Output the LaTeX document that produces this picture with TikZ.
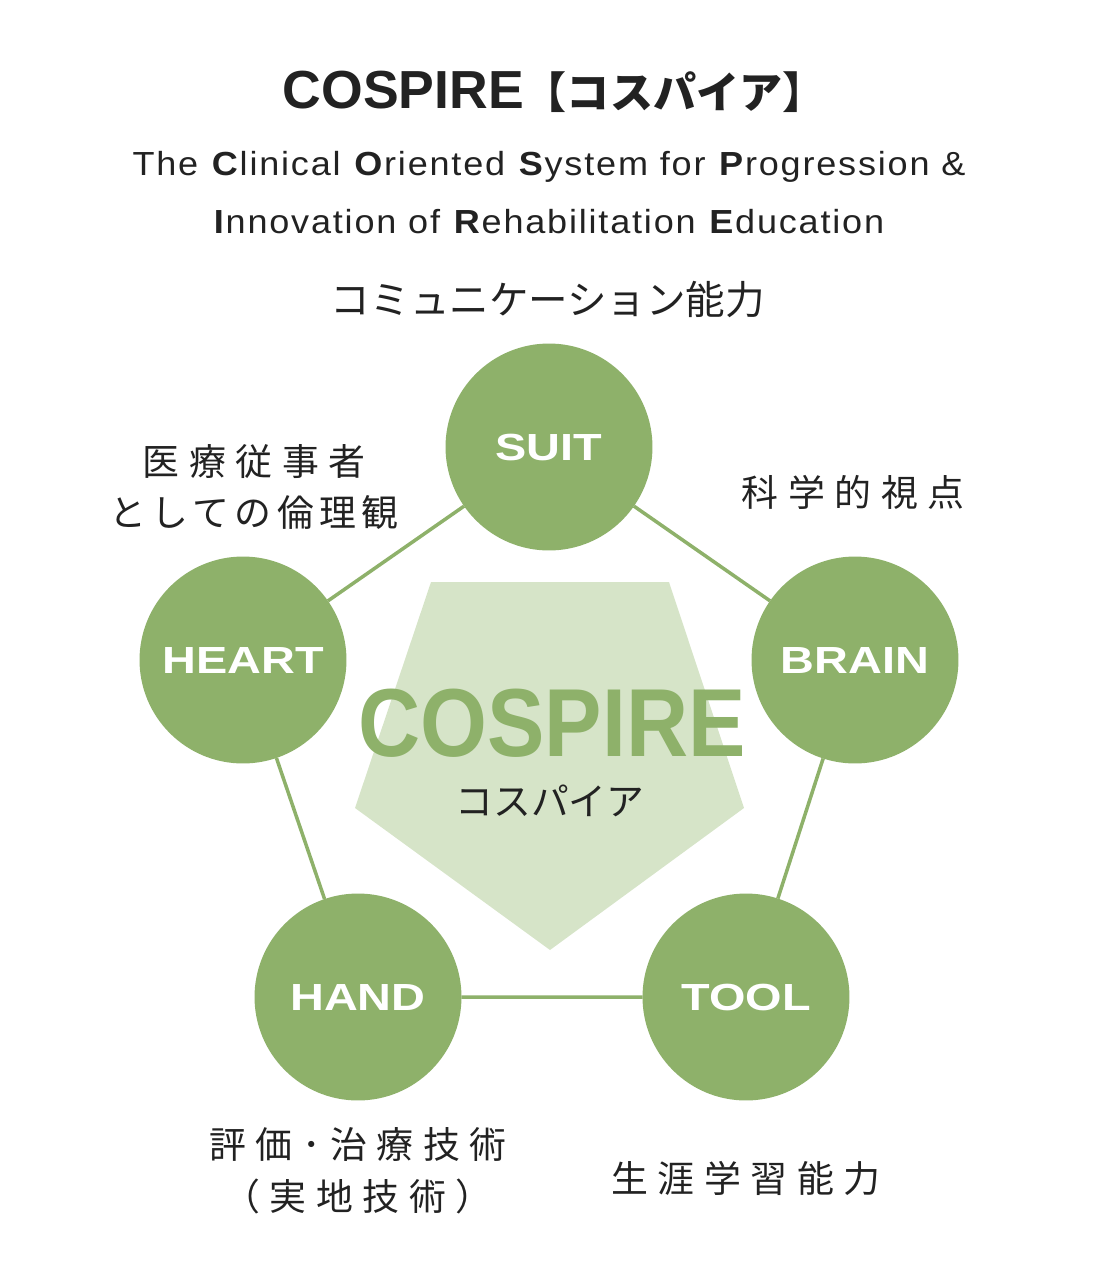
\documentclass[tikz,border=0pt]{standalone}
\usepackage{graphicx}
\usepackage{fontspec}
\setmainfont{Liberation Sans}
\newfontfamily\subfont[LetterSpace=5]{Liberation Sans}
\newfontfamily\jp{Noto Sans CJK JP}
\newfontfamily\jpw[LetterSpace=14]{Noto Sans CJK JP}
\newfontfamily\jpx[LetterSpace=26]{Noto Sans CJK JP}
\usepackage{tikz}
\definecolor{green1}{HTML}{8EB16A}
\definecolor{green2}{HTML}{D6E4C8}
\definecolor{ink1}{HTML}{222222}
\newcommand\widebox[1]{\scalebox{1.24}[1]{#1}}

\begin{document}
\begin{tikzpicture}[x=0.02cm,y=-0.02cm,
  ball/.style={circle,fill=green1,minimum size=4.14cm,inner sep=0pt,outer sep=0pt,
    text=white,font=\bfseries\fontsize{21.5}{22}\selectfont},
  link/.style={draw=green1,line width=2pt},
  jplabel/.style={text=ink1,align=center,font=\jpw\fontsize{21}{29.5}\selectfont}]
\useasboundingbox (0,0) rectangle (1100,1272);
% headings
\node[text=ink1,font=\bfseries\fontsize{30.5}{31}\selectfont] (title) at (554,92)
  {COSPIRE{\jp\fontsize{24.5}{26}\selectfont【コスパイア】}};
\node[text=ink1,font=\subfont\fontsize{19}{20}\selectfont] (sub1) at (549,167)
  {\scalebox{1.08}[1]{The \textbf{C}linical \textbf{O}riented \textbf{S}ystem for \textbf{P}rogression \&}};
\node[text=ink1,font=\subfont\fontsize{19}{20}\selectfont] (sub2) at (549,222)
  {\scalebox{1.08}[1]{\textbf{I}nnovation of \textbf{R}ehabilitation \textbf{E}ducation}};
% pentagon
\fill[green2] (431,582) -- (669,582) -- (744,808) -- (550,950) -- (355,808) -- cycle;
% circles
\node[ball] (suit) at (549,447) {\widebox{SUIT}};
\node[ball] (heart) at (243,660) {\widebox{HEART}};
\node[ball] (brain) at (855,660) {\widebox{BRAIN}};
\node[ball] (hand) at (358,997) {\widebox{HAND}};
\node[ball] (tool) at (746,997) {\widebox{TOOL}};
\draw[link] (suit) -- (brain) -- (tool) -- (hand) -- (heart) -- (suit);
% centre
\node[text=green1,font=\bfseries\fontsize{55}{56}\selectfont] (logo) at (552,723)
  {\scalebox{0.89}[1]{COSPIRE}};
\node[text=ink1,font=\jp\fontsize{21.5}{22}\selectfont] (logojp) at (550,801) {コスパイア};
% labels
\node[jplabel,font=\jp\fontsize{22.5}{29.5}\selectfont] (comm) at (548,300) {コミュニケーション能力};
\node[jplabel] (ethic) at (254,487) {{\jpx 医療従事者}\\としての倫理観};
\node[jplabel,font=\jpx\fontsize{21}{29.5}\selectfont] (sci) at (853,492) {科学的視点};
\node[jplabel,font=\jpx\fontsize{21}{29.5}\selectfont] (skill) at (358,1171) {評価･治療技術\\（実地技術）};
\node[jplabel,font=\jpx\fontsize{21}{29.5}\selectfont] (life) at (746,1178) {生涯学習能力};
\end{tikzpicture}
\end{document}
